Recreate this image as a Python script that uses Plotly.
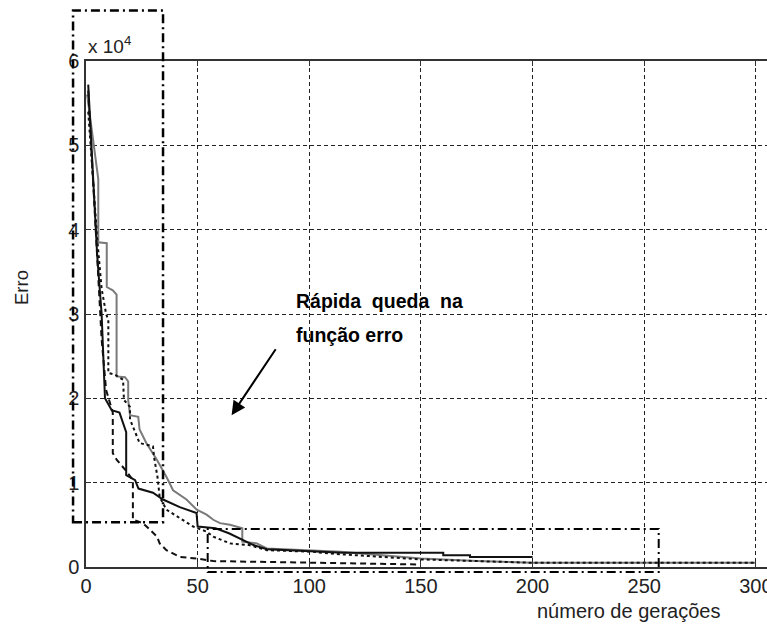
import plotly.graph_objects as go

# Error (x 10^4) per generation for four runs of the genetic algorithm
gen_solid = [1, 2.5, 4.5, 5, 7, 8.5, 11.5, 15, 18, 18, 22, 23.5, 30, 34.5, 42, 49.5, 50,
             58, 64, 70, 75, 81, 99, 115, 160, 160, 172, 172, 200]
err_solid = [5.72, 5.0, 4.0, 3.7, 3.0, 2.0, 1.86, 1.83, 1.6, 1.09, 1.03, 0.93, 0.88, 0.8,
             0.71, 0.64, 0.48, 0.46, 0.40, 0.32, 0.26, 0.21, 0.19, 0.17, 0.17, 0.14, 0.14,
             0.12, 0.12]

gen_gray = [0.5, 2, 3.5, 5.5, 5.5, 9.3, 9.3, 12, 13.7, 13.7, 17.5, 18.9, 18.9, 19.7, 23.4,
            24, 27, 31.8, 36, 39, 45, 49.6, 54, 57, 60, 64.5, 70, 70, 76.5, 81, 114, 132,
            150, 175, 200, 300]
err_gray = [5.6, 5.3, 5.0, 4.6, 3.85, 3.84, 3.32, 3.28, 3.23, 2.26, 2.25, 2.2, 1.98, 1.8,
            1.78, 1.63, 1.47, 1.27, 1.07, 0.91, 0.8, 0.68, 0.62, 0.56, 0.52, 0.5, 0.46,
            0.30, 0.28, 0.22, 0.18, 0.14, 0.1, 0.07, 0.05, 0.05]

gen_dot = [1, 3, 5, 7, 9, 10, 10, 13, 16.6, 17, 19.7, 19.7, 24, 30, 30.5, 32, 33, 36, 42,
           48, 54, 57, 64.5, 73, 81, 102, 109, 132, 150, 200, 300]
err_dot = [5.4, 4.6, 3.9, 3.3, 3.0, 2.93, 2.3, 2.28, 2.22, 1.98, 1.9, 1.75, 1.47, 1.43,
           1.3, 1.07, 0.83, 0.68, 0.58, 0.48, 0.42, 0.36, 0.28, 0.26, 0.2, 0.18, 0.16,
           0.12, 0.09, 0.05, 0.05]

gen_dash = [1, 3, 5, 7, 9, 12, 12, 13.8, 18.3, 21, 21, 25.5, 28.7, 31.8, 33, 36, 42, 49.7,
            57, 100, 150]
err_dash = [5.65, 4.7, 3.6, 2.7, 2.1, 1.83, 1.35, 1.27, 1.13, 1.03, 0.56, 0.52, 0.44,
            0.36, 0.28, 0.2, 0.12, 0.10, 0.07, 0.05, 0.03]

x_ticks = [0, 50, 100, 150, 200, 250, 300]
y_ticks = [0, 1, 2, 3, 4, 5, 6]

# highlighted regions (data units): early fast drop and long flat tail
box_fast = dict(x0=-5.8, x1=34.5, y0=0.53, y1=6.6)
box_tail = dict(x0=54.5, x1=256.5, y0=-0.06, y1=0.45)

X_MAX = 305
Y_MAX = 6
W, H = 767, 626
L, T, B = 86, 61, 59
FONT = "Liberation Sans, Arial, Helvetica, sans-serif"

fig = go.Figure()
fig.add_trace(go.Scatter(x=gen_gray, y=err_gray, mode="lines",
                         line=dict(color="#7a7a7a", width=2)))
fig.add_trace(go.Scatter(x=gen_dot, y=err_dot, mode="lines",
                         line=dict(color="#111111", width=2, dash="dot")))
fig.add_trace(go.Scatter(x=gen_dash, y=err_dash, mode="lines",
                         line=dict(color="#111111", width=2, dash="6px,4px")))
fig.add_trace(go.Scatter(x=gen_solid, y=err_solid, mode="lines",
                         line=dict(color="#111111", width=2)))


def to_paper(box):
    return dict(x0=box["x0"] / X_MAX, x1=box["x1"] / X_MAX,
                y0=box["y0"] / Y_MAX, y1=box["y1"] / Y_MAX)


for box, w in ((box_fast, 2.5), (box_tail, 2)):
    fig.add_shape(type="rect", xref="paper", yref="paper", **to_paper(box),
                  line=dict(color="black", width=w, dash="9px,4px,2px,4px"),
                  fillcolor="rgba(0,0,0,0)")

annotations = [
    dict(x=93.2, y=3.15, xref="x", yref="y", text="Rápida&nbsp;&nbsp;queda&nbsp;&nbsp;na",
         showarrow=False, xanchor="left", yanchor="middle",
         font=dict(family=FONT, size=19.5, color="black", weight="bold")),
    dict(x=93.2, y=2.75, xref="x", yref="y", text="função erro",
         showarrow=False, xanchor="left", yanchor="middle",
         font=dict(family=FONT, size=19.5, color="black", weight="bold")),
    dict(x=65.2, y=1.8, ax=85.4, ay=2.6, xref="x", yref="y", axref="x", ayref="y",
         text="", showarrow=True, arrowhead=2, arrowsize=1.4, arrowwidth=2,
         arrowcolor="black"),
    dict(x=(21 - L) / (W - L), y=(H - B - 288) / (H - B - T), xref="paper", yref="paper",
         text="Erro", textangle=-90, showarrow=False, xanchor="center", yanchor="middle",
         font=dict(family=FONT, size=18.5, color="#222222")),
    dict(x=(628 - L) / (W - L), y=(H - B - 611) / (H - B - T), xref="paper", yref="paper",
         text="número de gerações", showarrow=False, xanchor="center", yanchor="middle",
         font=dict(family=FONT, size=20, color="#222222")),
    dict(x=(86 - L) / (W - L), y=(H - B - 45) / (H - B - T), xref="paper", yref="paper",
         text="x 10<sup>4</sup>", showarrow=False, xanchor="left", yanchor="middle",
         font=dict(family=FONT, size=19, color="#222222")),
]

fig.update_layout(
    width=W, height=H,
    margin=dict(l=L, r=0, t=T, b=B, pad=0, autoexpand=False),
    paper_bgcolor="white", plot_bgcolor="white",
    showlegend=False,
    font=dict(family=FONT, size=20, color="#222222"),
    annotations=annotations,
)
fig.update_xaxes(
    range=[0, X_MAX], tickvals=x_ticks, ticktext=[str(v) for v in x_ticks],
    tickfont=dict(family=FONT, size=20, color="#222222"),
    showgrid=True, gridcolor="#222222", griddash="4px,3px", gridwidth=1,
    showline=True, linecolor="#333333", linewidth=1.5, mirror="ticks",
    ticks="inside", ticklen=5, tickcolor="#333333", zeroline=False,
    ticklabelstandoff=0, ticklabeloverflow="allow", automargin=False,
)
fig.update_yaxes(
    range=[0, Y_MAX], tickvals=y_ticks, ticktext=[str(v) for v in y_ticks],
    tickfont=dict(family=FONT, size=20, color="#222222"),
    showgrid=True, gridcolor="#222222", griddash="4px,3px", gridwidth=1,
    showline=True, linecolor="#333333", linewidth=1.5, mirror=False,
    ticks="inside", ticklen=5, tickcolor="#333333", zeroline=False,
    ticklabelstandoff=1, ticklabeloverflow="allow", automargin=False,
)

fig.write_html("out.html")
